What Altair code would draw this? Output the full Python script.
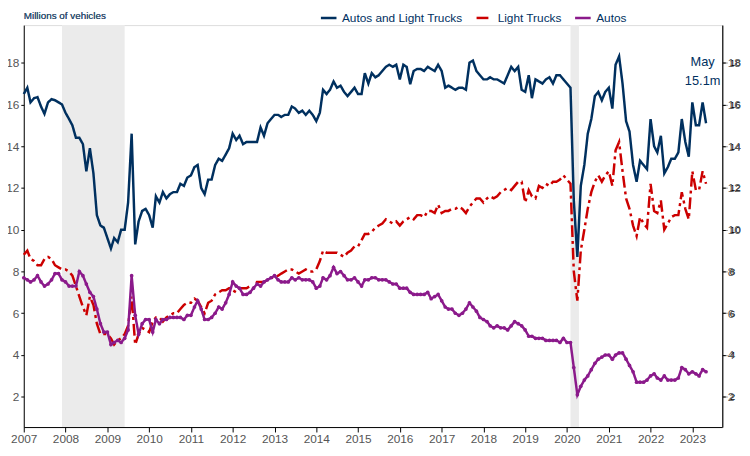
import pandas as pd
import altair as alt

total = [
    16.5, 16.8, 16.1, 16.3, 16.35, 15.9, 15.55, 16.1, 16.25, 16.2, 16.1, 16.0,
    15.6, 15.3, 15.0, 14.4, 14.4, 14.1, 12.8, 13.9, 12.7, 10.7, 10.2, 10.1,
    9.6, 9.1, 9.6, 9.4, 10.0, 10.0, 11.3, 14.6, 9.3, 10.4, 10.9, 11.0,
    10.7, 10.1, 11.6, 11.3, 11.8, 11.5, 11.7, 11.8, 11.8, 12.2, 12.1, 12.5,
    12.6, 13.0, 13.1, 12.0, 11.7, 12.4, 12.4, 13.1, 13.4, 13.3, 13.6, 13.9,
    14.6, 14.3, 14.5, 14.1, 14.2, 14.2, 14.2, 14.2, 14.9, 14.5, 15.1, 15.3,
    15.5, 15.5, 15.4, 15.5, 15.5, 15.9, 15.8, 15.6, 15.7, 15.5, 15.7, 15.5,
    15.2, 15.6, 16.7, 16.5, 16.7, 17.1, 16.8, 16.9, 16.6, 16.4, 16.6, 16.8,
    16.5, 16.5, 17.5, 17.0, 17.5, 17.3, 17.4, 17.6, 17.8, 17.9, 17.8, 17.9,
    17.2, 17.9, 17.8, 16.97, 17.6, 17.7, 17.7, 17.6, 17.8, 17.7, 17.6, 17.9,
    17.6, 16.8, 16.9, 16.8, 16.7, 16.8, 16.8, 16.7, 18.0, 18.1, 17.6, 17.4,
    17.2, 17.2, 17.3, 17.2, 17.2, 17.1, 17.0, 17.4, 17.8, 17.6, 17.8, 16.7,
    16.6, 17.4, 16.3, 17.2, 17.1, 17.0, 17.2, 17.3, 17.0, 17.4, 17.4, 17.2,
    17.0, 16.8, 11.4, 8.7, 12.1, 13.1, 14.6, 15.3, 16.4, 16.6, 16.2, 16.6,
    16.8, 15.8, 17.9, 18.3, 17.0, 15.2, 14.7, 13.1, 12.3, 13.3, 13.1, 12.9,
    15.3, 14.0, 13.7, 14.5, 12.7, 13.0, 13.4, 13.4, 13.7, 15.3, 14.2, 13.5,
    16.1, 15.0, 15.0, 16.1, 15.1,
]
light_trucks = [
    8.8, 9.0, 8.6, 8.5, 8.3, 8.3, 8.6, 8.7, 8.6, 8.3, 8.2, 8.1,
    8.1, 8.0, 7.8, 7.3, 6.8, 6.3, 5.9, 6.8, 6.4, 5.5, 5.0, 5.0,
    5.0, 4.8, 4.5, 4.7, 4.8, 5.0, 5.4, 6.8, 4.5, 5.0, 5.3, 5.2,
    5.1, 5.6, 5.8, 5.8, 5.6, 5.8, 5.9, 6.0, 6.0, 6.2, 6.4, 6.5,
    6.5, 6.7, 6.6, 6.3, 6.0, 6.5, 6.6, 6.9, 7.0, 7.1, 7.1, 7.2,
    7.1, 7.0, 7.2, 7.2, 7.2, 7.3, 7.2, 7.5, 7.5, 7.5, 7.6, 7.7,
    7.7, 7.8, 7.9, 8.0, 8.1, 8.1, 8.0, 7.9, 8.0, 8.1, 8.0, 8.0,
    8.1, 8.5, 9.0, 8.9, 8.9, 8.9, 8.9, 8.8, 8.7, 8.9, 9.0, 9.2,
    9.2, 9.5, 9.8, 9.8, 9.9, 10.1, 10.2, 10.3, 10.5, 10.4, 10.3, 10.4,
    10.2, 10.4, 10.5, 10.6, 10.5, 10.7, 10.7, 10.6, 10.9, 10.9, 10.8, 11.2,
    10.8, 10.9, 10.9, 11.0, 11.0, 11.1, 11.0, 10.8, 11.1, 11.3, 11.5, 11.5,
    11.3, 11.5, 11.6, 11.5, 11.6, 11.8, 11.9, 12.0, 11.9, 12.1, 12.3, 12.3,
    11.3, 11.9, 11.6, 11.5, 12.1, 12.0, 12.2, 12.1, 12.3, 12.3, 12.4, 12.6,
    12.4, 12.2, 8.0, 6.6, 9.0, 10.0, 11.0, 11.8, 12.3, 12.6, 12.3, 12.6,
    12.8, 12.1, 13.8, 14.2, 12.8, 11.5, 11.0, 10.2, 9.7, 10.6, 10.3, 10.1,
    12.2, 10.9, 10.8, 11.4, 10.0, 10.3, 10.6, 10.7, 10.7, 11.8, 11.0, 10.5,
    12.8, 11.9, 11.9, 12.8, 12.2,
]
autos = [
    7.7, 7.6, 7.5, 7.6, 7.8, 7.5, 7.3, 7.4, 7.6, 7.9, 7.9, 7.6,
    7.5, 7.3, 7.3, 7.3, 8.0, 7.8, 7.4, 7.0, 6.8, 6.2, 5.5, 5.1,
    5.1, 4.5, 4.6, 4.7, 4.6, 4.8, 5.2, 7.8, 5.9, 5.0, 5.5, 5.7,
    5.7, 5.1, 5.7, 5.5, 5.7, 5.7, 5.8, 5.8, 5.8, 5.8, 5.7, 5.9,
    5.9, 6.3, 6.6, 6.2, 5.7, 5.7, 5.8, 6.0, 6.3, 6.2, 6.5, 6.9,
    7.5, 7.3, 7.2, 6.9, 6.9, 7.0, 7.2, 7.4, 7.3, 7.5, 7.6, 7.7,
    7.8, 7.6, 7.5, 7.5, 7.5, 7.7, 7.6, 7.7, 7.6, 7.6, 7.6, 7.5,
    7.2, 7.3, 7.7, 7.6, 7.8, 8.2, 7.9, 8.0, 7.8, 7.6, 7.6, 7.7,
    7.5, 7.3, 7.6, 7.6, 7.7, 7.7, 7.6, 7.6, 7.6, 7.5, 7.4, 7.4,
    7.2, 7.2, 7.2, 7.0, 6.9, 6.9, 6.9, 6.9, 7.0, 6.7, 6.8, 6.9,
    6.6, 6.3, 6.2, 6.2, 6.0, 5.9, 6.0, 6.2, 6.5, 6.3, 6.1, 5.8,
    5.7, 5.6, 5.4, 5.3, 5.4, 5.3, 5.3, 5.2, 5.4, 5.6, 5.5, 5.4,
    5.2, 4.9, 4.9, 4.8, 4.8, 4.8, 4.7, 4.7, 4.7, 4.7, 4.6, 4.8,
    4.6, 4.6, 3.4, 2.1, 2.5, 2.8, 3.0, 3.3, 3.6, 3.8, 3.9, 4.0,
    4.0, 3.8, 4.0, 4.1, 4.1, 3.8, 3.5, 3.2, 2.7, 2.7, 2.7, 2.8,
    3.0, 3.1, 2.9, 2.8, 3.0, 2.8, 2.8, 2.8, 2.9, 3.4, 3.3, 3.1,
    3.2, 3.1, 3.0, 3.3, 3.2,
]
recession_start = ["2007-12-01", "2020-02-01"]
recession_end = ["2009-06-01", "2020-04-15"]

series_names = ["Autos and Light Trucks", "Light Trucks", "Autos"]
series_colors = ["#00305f", "#cc0000", "#8b1a8b"]

dates = pd.date_range("2007-01-01", periods=len(total), freq="MS")
df = pd.concat([
    pd.DataFrame({"date": dates, "value": v, "series": n})
    for v, n in zip([total, light_trucks, autos], series_names)
])
rec = pd.DataFrame({"start": pd.to_datetime(recession_start),
                    "end": pd.to_datetime(recession_end)})

H = 408
x_scale = alt.Scale(domain=[pd.Timestamp("2007-01-01").isoformat(),
                            pd.Timestamp("2023-09-20").isoformat()])
y_scale = alt.Scale(domain=[0.55, 19.8], nice=False)
x_axis = alt.Axis(format="%Y", tickCount={"interval": "year", "step": 1},
                  labelColor="#555555", labelFontSize=12, domainColor="black",
                  tickColor="black", grid=False, title=None, labelFlush=False)
y_ticks = [2, 4, 6, 8, 10, 12, 14, 16, 18]
y_axis = alt.Axis(values=y_ticks, labelColor="#555555", labelFontSize=12,
                  domainColor="black", tickColor="black", grid=False, title=None,
                  tickSize=3, labelPadding=2)

shade = alt.Chart(rec).mark_rect(color="#ebebeb").encode(
    x=alt.X("start:T", scale=x_scale, axis=x_axis), x2="end:T",
    y=alt.value(0), y2=alt.value(H))

lines = alt.Chart(df).mark_line().encode(
    x=alt.X("date:T", scale=x_scale, axis=x_axis),
    y=alt.Y("value:Q", scale=y_scale, axis=y_axis),
    color=alt.Color("series:N", sort=series_names, title=None,
                    scale=alt.Scale(domain=series_names, range=series_colors),
                    legend=alt.Legend(orient="none", direction="horizontal",
                                      legendX=300, legendY=-17, labelFontSize=12,
                                      labelColor="#00305f", symbolStrokeWidth=2.5,
                                      symbolSize=250, columnPadding=8)),
    strokeDash=alt.StrokeDash("series:N", sort=series_names,
                              scale=alt.Scale(domain=series_names,
                                              range=[[1, 0], [12, 4, 3, 4], [1, 0]]),
                              legend=None),
    strokeWidth=alt.StrokeWidth("series:N",
                                scale=alt.Scale(domain=series_names, range=[2.5, 2.5, 0.8]),
                                legend=None),
)

pts = alt.Chart(df[df["series"] == "Autos"]).mark_circle(
    size=14, color="#8b1a8b", opacity=1).encode(
    x=alt.X("date:T", scale=x_scale), y=alt.Y("value:Q", scale=y_scale))

ann = pd.DataFrame({"date": pd.to_datetime(["2023-04-01", "2023-04-01"]),
                    "value": [18.05, 17.1], "label": ["May", "15.1m"]})
right = alt.Chart(ann).mark_text(fontSize=13, color="#00305f").encode(
    x=alt.X("date:T", scale=x_scale),
    y=alt.Y("value:Q", scale=y_scale,
            axis=alt.Axis(orient="right", values=y_ticks, labelColor="#555555",
                          labelFontSize=12, domainColor="black", tickColor="black",
                          grid=False, title=None, tickSize=3, labelPadding=2)),
    text="label:N")

title = alt.Chart(ann).mark_text(align="left", fontSize=10, color="#2f4f6f").encode(
    x=alt.value(0), y=alt.value(-9), text=alt.value("Millions of vehicles"))

chart = alt.layer(shade, lines, pts, title, right).resolve_scale(y="independent").properties(
    width=709, height=H,
    autosize=alt.AutoSizeParams(type="none"),
    padding={"left": 16, "top": 14, "right": 20, "bottom": 24},
).configure_view(stroke=None).configure(font="Liberation Sans")

chart.save("out.html", embed_options={"renderer": "svg", "actions": False})
